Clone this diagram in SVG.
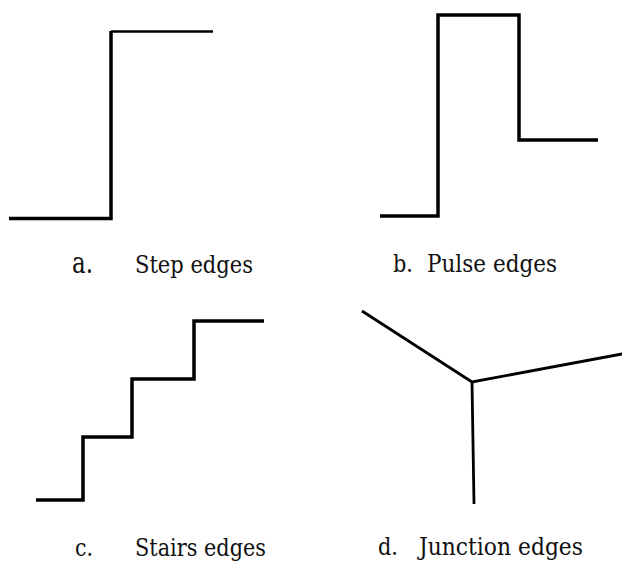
<svg xmlns="http://www.w3.org/2000/svg" width="622" height="561" viewBox="0 0 622 561">
<style>
.edge{fill:none;stroke:#000;stroke-linejoin:miter;stroke-linecap:butt}
text{font-family:'DejaVu Serif',serif;font-size:25px;fill:#111}
.big{font-size:29px}
</style>
<rect width="622" height="561" fill="#fff"/>
<g id="step">
<polyline class="edge" stroke-width="3.5" points="9,218.5 111,218.5 111,31"/>
<polyline class="edge" stroke-width="2.5" points="111,31.5 213,31.5"/>
<text class="big" x="72" y="273" textLength="21" lengthAdjust="spacingAndGlyphs">a.</text>
<text x="135" y="273" textLength="118" lengthAdjust="spacingAndGlyphs">Step edges</text>
</g>
<g id="pulse">
<polyline class="edge" stroke-width="3.5" points="380,216 438,216 438,15 519,15 519,140 598,140"/>
<text x="393" y="272" textLength="20" lengthAdjust="spacingAndGlyphs">b.</text>
<text x="427" y="272" textLength="130" lengthAdjust="spacingAndGlyphs">Pulse edges</text>
</g>
<g id="stairs">
<polyline class="edge" stroke-width="3.5" points="36,500 83,500 83,437 132,437 132,379 194,379 194,321 264,321"/>
<text x="75" y="556" textLength="18" lengthAdjust="spacingAndGlyphs">c.</text>
<text x="135" y="556" textLength="131" lengthAdjust="spacingAndGlyphs">Stairs edges</text>
</g>
<g id="junction">
<polyline class="edge" stroke-width="2.8" points="362,311 472,382 622,354"/>
<line class="edge" stroke-width="2.8" x1="472" y1="382" x2="474" y2="504"/>
<text x="378" y="555" textLength="20" lengthAdjust="spacingAndGlyphs">d.</text>
<text x="419" y="555" textLength="164" lengthAdjust="spacingAndGlyphs">Junction edges</text>
</g>
</svg>
